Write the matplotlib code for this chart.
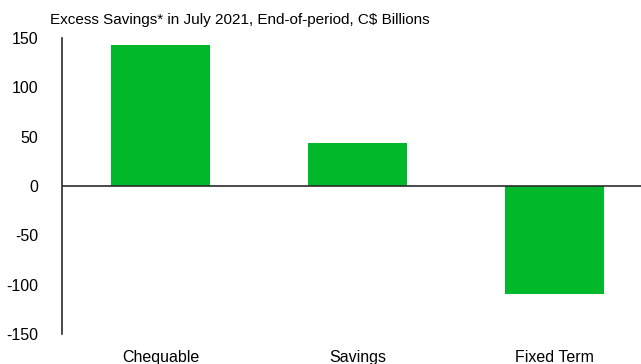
import matplotlib.pyplot as plt

# Excess savings by deposit type, July 2021 (C$ billions)
categories = ['Chequable', 'Savings', 'Fixed Term']
values = [143, 43.5, -109]
yticks = [-150, -100, -50, 0, 50, 100, 150]

plt.rcParams['font.family'] = ['Liberation Sans', 'DejaVu Sans']
plt.rcParams['axes.unicode_minus'] = False

fig = plt.figure(figsize=(6.41, 3.64), dpi=100)
ax = fig.add_axes([0.0967, 0.0824, 0.9033, 0.8132])

ax.bar(range(len(categories)), values, width=0.5, color='#00B82A')
ax.axhline(0, color='#2b2b2b', lw=1.2)

ax.set_xlim(-0.5, 2.44)
ax.set_ylim(-150, 150)
ax.set_yticks(yticks)
ax.set_xticks(range(len(categories)))
ax.set_xticklabels(categories)
ax.tick_params(axis='y', length=0, pad=17, labelsize=11.5)
ax.tick_params(axis='x', length=0, pad=11.5, labelsize=11.5)

for s in ['top', 'right', 'bottom']:
    ax.spines[s].set_visible(False)
ax.spines['left'].set_color('#2b2b2b')
ax.spines['left'].set_linewidth(1.2)

fig.text(0.078, 0.945, 'Excess Savings* in July 2021, End-of-period, C$ Billions',
         fontsize=11, va='center', ha='left')

fig.savefig('out.png', dpi=100)
